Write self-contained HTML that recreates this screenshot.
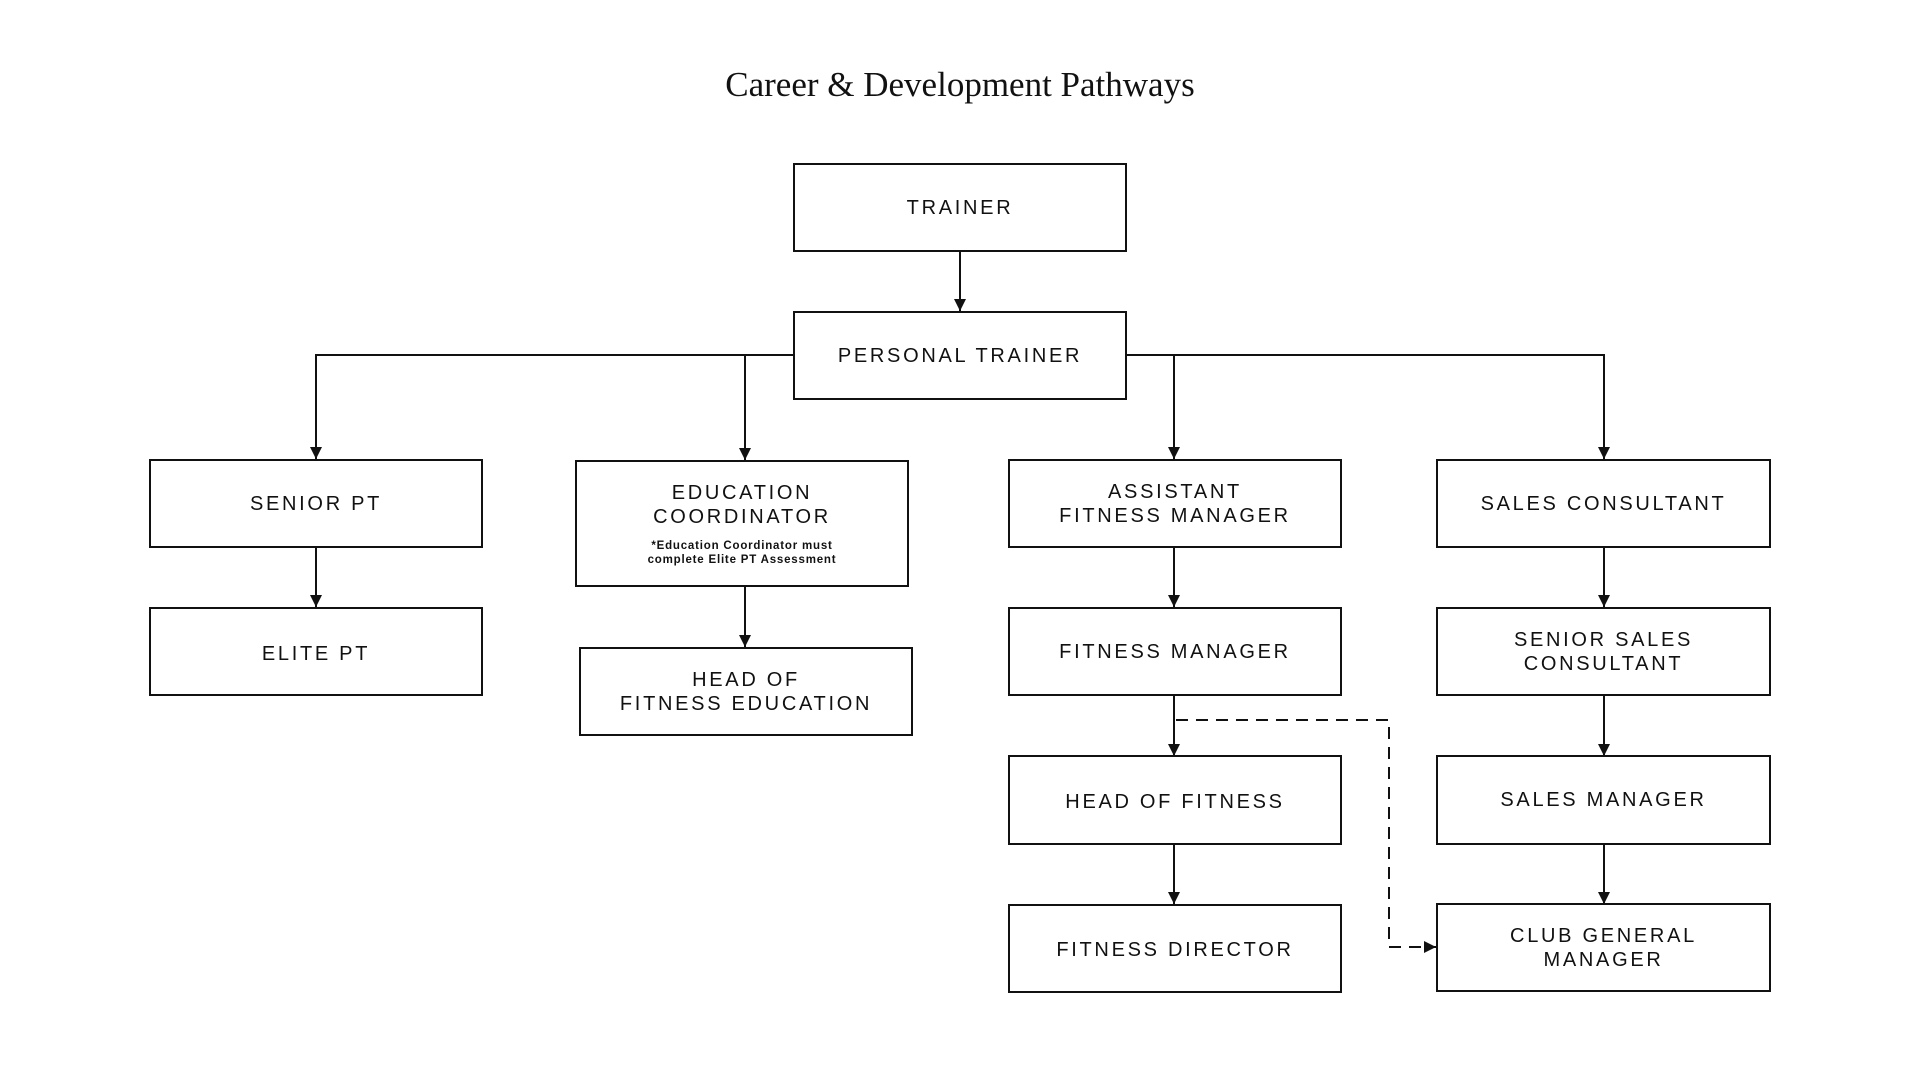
<!DOCTYPE html>
<html><head><meta charset="utf-8"><style>
html,body{margin:0;padding:0;background:#fff;}
body{width:1920px;height:1080px;position:relative;overflow:hidden;font-family:"Liberation Sans",sans-serif;}
.t{position:absolute;left:0;width:1920px;top:65px;text-align:center;font-family:"Liberation Serif",serif;font-size:35px;color:#111;}
.b{position:absolute;box-sizing:border-box;border:2px solid #111;display:flex;flex-direction:column;align-items:center;justify-content:center;text-align:center;font-size:20px;letter-spacing:2.7px;line-height:24px;color:#111;}
.n{font-size:11.5px;letter-spacing:0.8px;line-height:14px;margin-top:10px;font-weight:bold;}
svg{position:absolute;left:0;top:0;}
</style></head><body>
<div class="t">Career &amp; Development Pathways</div>
<svg width="1920" height="1080">
<defs><marker id="a" markerWidth="12" markerHeight="12" refX="12" refY="6" orient="auto" markerUnits="userSpaceOnUse"><path d="M0,0 L12,6 L0,12 z" fill="#111"/></marker></defs>
<g stroke="#111" stroke-width="2" fill="none">
<line x1="960" y1="251" x2="960" y2="311" marker-end="url(#a)"/>
<polyline points="793,355 316,355 316,459" marker-end="url(#a)"/>
<line x1="745" y1="355" x2="745" y2="460" marker-end="url(#a)"/>
<polyline points="1127,355 1604,355 1604,459" marker-end="url(#a)"/>
<line x1="1174" y1="355" x2="1174" y2="459" marker-end="url(#a)"/>
<line x1="316" y1="547" x2="316" y2="607" marker-end="url(#a)"/>
<line x1="745" y1="587" x2="745" y2="647" marker-end="url(#a)"/>
<line x1="1174" y1="547" x2="1174" y2="607" marker-end="url(#a)"/>
<line x1="1604" y1="547" x2="1604" y2="607" marker-end="url(#a)"/>
<line x1="1174" y1="696" x2="1174" y2="756" marker-end="url(#a)"/>
<line x1="1604" y1="696" x2="1604" y2="756" marker-end="url(#a)"/>
<line x1="1174" y1="844" x2="1174" y2="904" marker-end="url(#a)"/>
<line x1="1604" y1="844" x2="1604" y2="904" marker-end="url(#a)"/>
<polyline points="1176,720 1389,720 1389,947 1436,947" stroke-dasharray="12,8" marker-end="url(#a)"/>
</g></svg>
<div class="b" style="left:793px;top:163px;width:334px;height:89px">TRAINER</div>
<div class="b" style="left:793px;top:311px;width:334px;height:89px">PERSONAL TRAINER</div>
<div class="b" style="left:149px;top:459px;width:334px;height:89px">SENIOR PT</div>
<div class="b" style="left:575px;top:460px;width:334px;height:127px">EDUCATION<br>COORDINATOR<div class="n">*Education Coordinator must<br>complete Elite PT Assessment</div></div>
<div class="b" style="left:1008px;top:459px;width:334px;height:89px">ASSISTANT<br>FITNESS MANAGER</div>
<div class="b" style="left:1436px;top:459px;width:335px;height:89px">SALES CONSULTANT</div>
<div class="b" style="left:149px;top:607px;width:334px;height:89px;padding-top:4px">ELITE PT</div>
<div class="b" style="left:579px;top:647px;width:334px;height:89px">HEAD OF<br>FITNESS EDUCATION</div>
<div class="b" style="left:1008px;top:607px;width:334px;height:89px">FITNESS MANAGER</div>
<div class="b" style="left:1436px;top:607px;width:335px;height:89px">SENIOR SALES<br>CONSULTANT</div>
<div class="b" style="left:1008px;top:755px;width:334px;height:90px;padding-top:4px">HEAD OF FITNESS</div>
<div class="b" style="left:1436px;top:755px;width:335px;height:90px">SALES MANAGER</div>
<div class="b" style="left:1008px;top:904px;width:334px;height:89px;padding-top:2px">FITNESS DIRECTOR</div>
<div class="b" style="left:1436px;top:903px;width:335px;height:89px">CLUB GENERAL<br>MANAGER</div>
</body></html>
